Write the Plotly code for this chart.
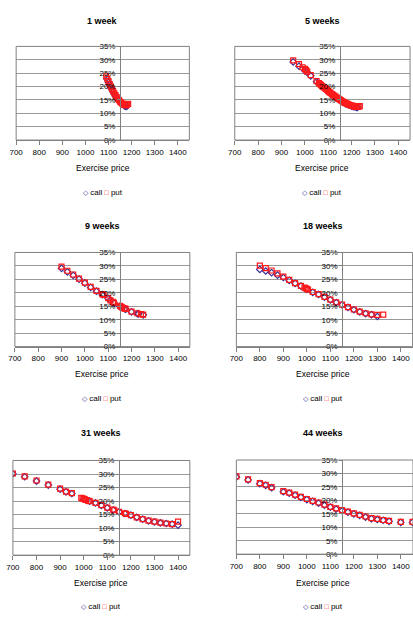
import plotly.graph_objects as go

# ---------------- data (implied volatility, %) ----------------
titles = ["1 week", "5 weeks", "9 weeks", "18 weeks", "31 weeks", "44 weeks"]

put_k1 = [1090, 1095, 1100, 1105, 1110, 1115, 1120, 1125, 1130, 1135, 1140, 1145, 1150, 1155, 1160, 1165, 1170, 1175, 1180, 1185]
put_v1 = [23.8, 22.9, 21.9, 20.9, 20.0, 19.1, 18.3, 17.5, 16.8, 16.1, 15.5, 14.9, 14.4, 14.0, 13.6, 13.3, 13.1, 13.0, 13.2, 13.5]
call_k1 = [1095, 1100, 1105, 1110, 1115, 1120, 1125, 1130, 1135, 1140, 1145, 1150, 1155, 1160, 1165, 1170, 1175, 1180]
call_v1 = [22.6, 21.6, 20.6, 19.7, 18.8, 18.0, 17.2, 16.5, 15.9, 15.3, 14.7, 14.2, 13.8, 13.4, 13.1, 12.8, 12.6, 12.7]

put_k2 = [950, 975, 990, 1000, 1005, 1010, 1025, 1050, 1060, 1065, 1070, 1075, 1080, 1085, 1090, 1095, 1100, 1105, 1110, 1115, 1120, 1125, 1130, 1135, 1140, 1145, 1150, 1155, 1160, 1165, 1170, 1175, 1180, 1185, 1190, 1195, 1200, 1205, 1210, 1215, 1220, 1225, 1230, 1235]
put_v2 = [29.8, 28.4, 27.2, 26.6, 26.1, 25.6, 24.3, 22.0, 21.3, 20.9, 20.5, 20.1, 19.8, 19.4, 19.1, 18.7, 18.3, 17.9, 17.6, 17.2, 16.9, 16.6, 16.3, 16.0, 15.7, 15.4, 15.1, 14.8, 14.5, 14.3, 14.0, 13.8, 13.6, 13.4, 13.2, 13.0, 12.9, 12.8, 12.6, 12.5, 12.5, 12.4, 12.5, 12.7]
call_k2 = [950, 975, 1000, 1010, 1025, 1050, 1060, 1070, 1075, 1080, 1090, 1100, 1110, 1120, 1125, 1130, 1140, 1150, 1160, 1170, 1175, 1180, 1190, 1200, 1210, 1220, 1225]
call_v2 = [29.2, 27.6, 25.9, 25.3, 24.0, 21.8, 21.1, 20.3, 20.0, 19.6, 18.9, 18.1, 17.4, 16.7, 16.4, 16.1, 15.5, 14.9, 14.3, 13.8, 13.6, 13.4, 13.0, 12.7, 12.4, 12.2, 12.2]

put_k3 = [900, 925, 950, 975, 1000, 1025, 1050, 1075, 1080, 1100, 1110, 1120, 1125, 1150, 1155, 1160, 1170, 1175, 1200, 1225, 1240, 1250]
put_v3 = [29.7, 28.2, 26.8, 25.3, 23.8, 22.2, 20.7, 19.5, 19.2, 18.0, 17.2, 16.6, 16.3, 15.2, 14.9, 14.6, 14.2, 14.0, 13.0, 12.4, 12.1, 11.9]
call_k3 = [900, 925, 950, 975, 1000, 1025, 1050, 1075, 1100, 1110, 1125, 1150, 1160, 1170, 1175, 1200, 1225, 1230, 1250]
call_v3 = [29.1, 27.8, 26.5, 25.1, 23.6, 22.0, 20.6, 19.3, 17.9, 17.2, 16.2, 15.0, 14.5, 14.1, 13.9, 12.9, 12.3, 12.2, 11.8]

put_k4 = [800, 825, 850, 875, 900, 925, 950, 975, 990, 995, 1000, 1005, 1025, 1050, 1075, 1100, 1125, 1150, 1175, 1200, 1225, 1250, 1275, 1300, 1325]
put_v4 = [30.1, 29.2, 28.3, 27.2, 26.0, 24.8, 23.6, 22.6, 21.9, 21.7, 21.5, 21.2, 20.3, 19.5, 18.5, 17.5, 16.5, 15.6, 14.7, 13.8, 13.0, 12.4, 12.0, 11.8, 11.9]
call_k4 = [800, 825, 850, 875, 900, 925, 950, 975, 1000, 1025, 1050, 1075, 1100, 1125, 1150, 1175, 1200, 1225, 1250, 1275, 1300]
call_v4 = [28.7, 28.1, 27.5, 26.6, 25.7, 24.6, 23.5, 22.5, 21.3, 20.2, 19.4, 18.4, 17.4, 16.4, 15.5, 14.6, 13.7, 12.9, 12.3, 11.9, 11.2]

put_k5 = [700, 750, 800, 850, 900, 925, 950, 990, 995, 1000, 1005, 1010, 1020, 1025, 1050, 1075, 1100, 1125, 1130, 1150, 1175, 1180, 1200, 1225, 1250, 1275, 1300, 1325, 1350, 1375, 1400]
put_v5 = [30.2, 29.1, 27.6, 26.1, 24.6, 23.5, 22.9, 21.2, 21.0, 20.8, 20.6, 20.4, 20.1, 20.0, 19.3, 18.5, 17.6, 16.8, 16.6, 16.0, 15.5, 15.3, 14.8, 14.0, 13.3, 12.8, 12.4, 12.0, 11.7, 11.5, 12.4]
call_k5 = [700, 750, 800, 850, 900, 925, 950, 1000, 1010, 1025, 1050, 1075, 1100, 1125, 1150, 1175, 1200, 1225, 1250, 1275, 1300, 1325, 1350, 1375, 1400]
call_v5 = [30.1, 29.0, 27.4, 25.9, 24.4, 23.4, 22.8, 20.7, 20.4, 20.0, 19.3, 18.4, 17.5, 16.7, 16.0, 15.4, 14.8, 14.0, 13.3, 12.7, 12.3, 11.9, 11.7, 11.5, 11.1]

put_k6 = [700, 750, 800, 825, 850, 900, 925, 950, 975, 1000, 1025, 1050, 1075, 1100, 1125, 1150, 1175, 1200, 1225, 1250, 1275, 1300, 1325, 1350, 1400, 1450]
put_v6 = [28.9, 27.8, 26.4, 25.8, 24.9, 23.4, 22.9, 22.1, 21.3, 20.5, 19.8, 19.2, 18.4, 17.6, 17.0, 16.4, 15.8, 15.2, 14.6, 14.0, 13.4, 13.1, 12.7, 12.4, 12.0, 12.0]
call_k6 = put_k6
call_v6 = [28.7, 27.6, 26.2, 25.6, 24.7, 23.2, 22.7, 21.9, 21.1, 20.3, 19.6, 19.0, 18.2, 17.5, 16.8, 16.2, 15.6, 15.0, 14.4, 13.8, 13.2, 12.9, 12.6, 12.2, 11.8, 11.8]

series = [
    (call_k1, call_v1, put_k1, put_v1),
    (call_k2, call_v2, put_k2, put_v2),
    (call_k3, call_v3, put_k3, put_v3),
    (call_k4, call_v4, put_k4, put_v4),
    (call_k5, call_v5, put_k5, put_v5),
    (call_k6, call_v6, put_k6, put_v6),
]

x_ticks = [700, 800, 900, 1000, 1100, 1200, 1300, 1400]
y_axis_cross = 1150

# ---------------- layout (pixels) ----------------
W, H = 413, 641
# (left px, right px, top px, bottom px, x max)
boxes = [
    (9.3, 185.5, 43, 138, 1450),
    (231.7, 410.0, 43, 138, 1450),
    (8.0, 186.0, 252, 347.5, 1450),
    (233.3, 412.6, 252, 347.5, 1450),
    (6.0, 186.0, 463, 559, 1450),
    (233.3, 413.0, 462.5, 558, 1452),
]
title_y = [17, 17, 225, 225, 435, 435]
xlab_y = [166, 166, 375, 375, 587, 587]
leg_y = [191, 191, 400, 400, 611, 611]

FONT = "Liberation Sans, Arial, sans-serif"
CALL = "#3a2f9a"
PUT = "#ff1a1a"
GRID = "#9a9a9a"
AXIS = "#808080"

fig = go.Figure()
layout = dict(
    width=W, height=H, margin=dict(l=0, r=0, t=0, b=0),
    paper_bgcolor="white", plot_bgcolor="white", showlegend=False,
    font=dict(family=FONT, size=8, color="black"),
)
annotations = []
shapes = []

for i, (box, (ck, cv, pk, pv)) in enumerate(zip(boxes, series)):
    n = i + 1
    sfx = "" if n == 1 else str(n)
    xa, ya = "x" + sfx, "y" + sfx
    x0, x1, y0, y1, xmax = box
    fig.add_trace(go.Scatter(
        x=ck, y=cv, mode="markers", name="call", xaxis=xa, yaxis=ya,
        marker=dict(symbol="diamond-open", size=5, color=CALL, line=dict(width=1.2, color=CALL)),
        cliponaxis=True))
    fig.add_trace(go.Scatter(
        x=pk, y=pv, mode="markers", name="put", xaxis=xa, yaxis=ya,
        marker=dict(symbol="square-open", size=5, color=PUT, line=dict(width=1.2, color=PUT)),
        cliponaxis=True))

    layout["xaxis" + sfx] = dict(
        domain=[x0 / W, x1 / W], range=[700, xmax], anchor=ya,
        tickvals=x_ticks, showgrid=False, zeroline=False,
        showline=True, linecolor=AXIS, linewidth=1,
        ticks="outside", ticklen=4, tickcolor=AXIS, tickwidth=1,
        tickfont=dict(family=FONT, size=8, color="black"),
    )
    ypos = (x0 + (y_axis_cross - 700) / (xmax - 700) * (x1 - x0)) / W
    layout["yaxis" + sfx] = dict(
        domain=[1 - y1 / H, 1 - y0 / H], range=[0, 35], dtick=5, ticksuffix="%",
        anchor="free", position=ypos, overlaying=None,
        showgrid=True, gridcolor=GRID, gridwidth=1, zeroline=False,
        showline=True, linecolor=AXIS, linewidth=1,
        ticks="outside", ticklen=3, tickcolor=AXIS,
        tickfont=dict(family=FONT, size=8, color="black"),
    )
    shapes.append(dict(type="rect", xref=xa + " domain", yref=ya + " domain",
                       x0=0, x1=1, y0=0, y1=1, line=dict(color=AXIS, width=1),
                       layer="above"))
    cx = (x0 + min(x1, 410)) / 2 / W
    annotations.append(dict(text="<b>" + titles[i] + "</b>", x=cx, y=1 - title_y[i] / H,
                            xref="paper", yref="paper", showarrow=False,
                            xanchor="center", yanchor="middle",
                            font=dict(family=FONT, size=9, color="black")))
    annotations.append(dict(text="Exercise price", x=cx, y=1 - xlab_y[i] / H,
                            xref="paper", yref="paper", showarrow=False,
                            xanchor="center", yanchor="middle",
                            font=dict(family=FONT, size=8.5, color="black")))
    annotations.append(dict(
        text='<span style="color:%s;font-size:7px">◇</span> call <span style="color:%s;font-size:7px">□</span> put' % (CALL, PUT),
        x=cx, y=1 - leg_y[i] / H, xref="paper", yref="paper", showarrow=False,
        xanchor="center", yanchor="middle",
        font=dict(family=FONT, size=8, color="black")))

layout["annotations"] = annotations
layout["shapes"] = shapes
fig.update_layout(**layout)
fig.write_html("out.html")
